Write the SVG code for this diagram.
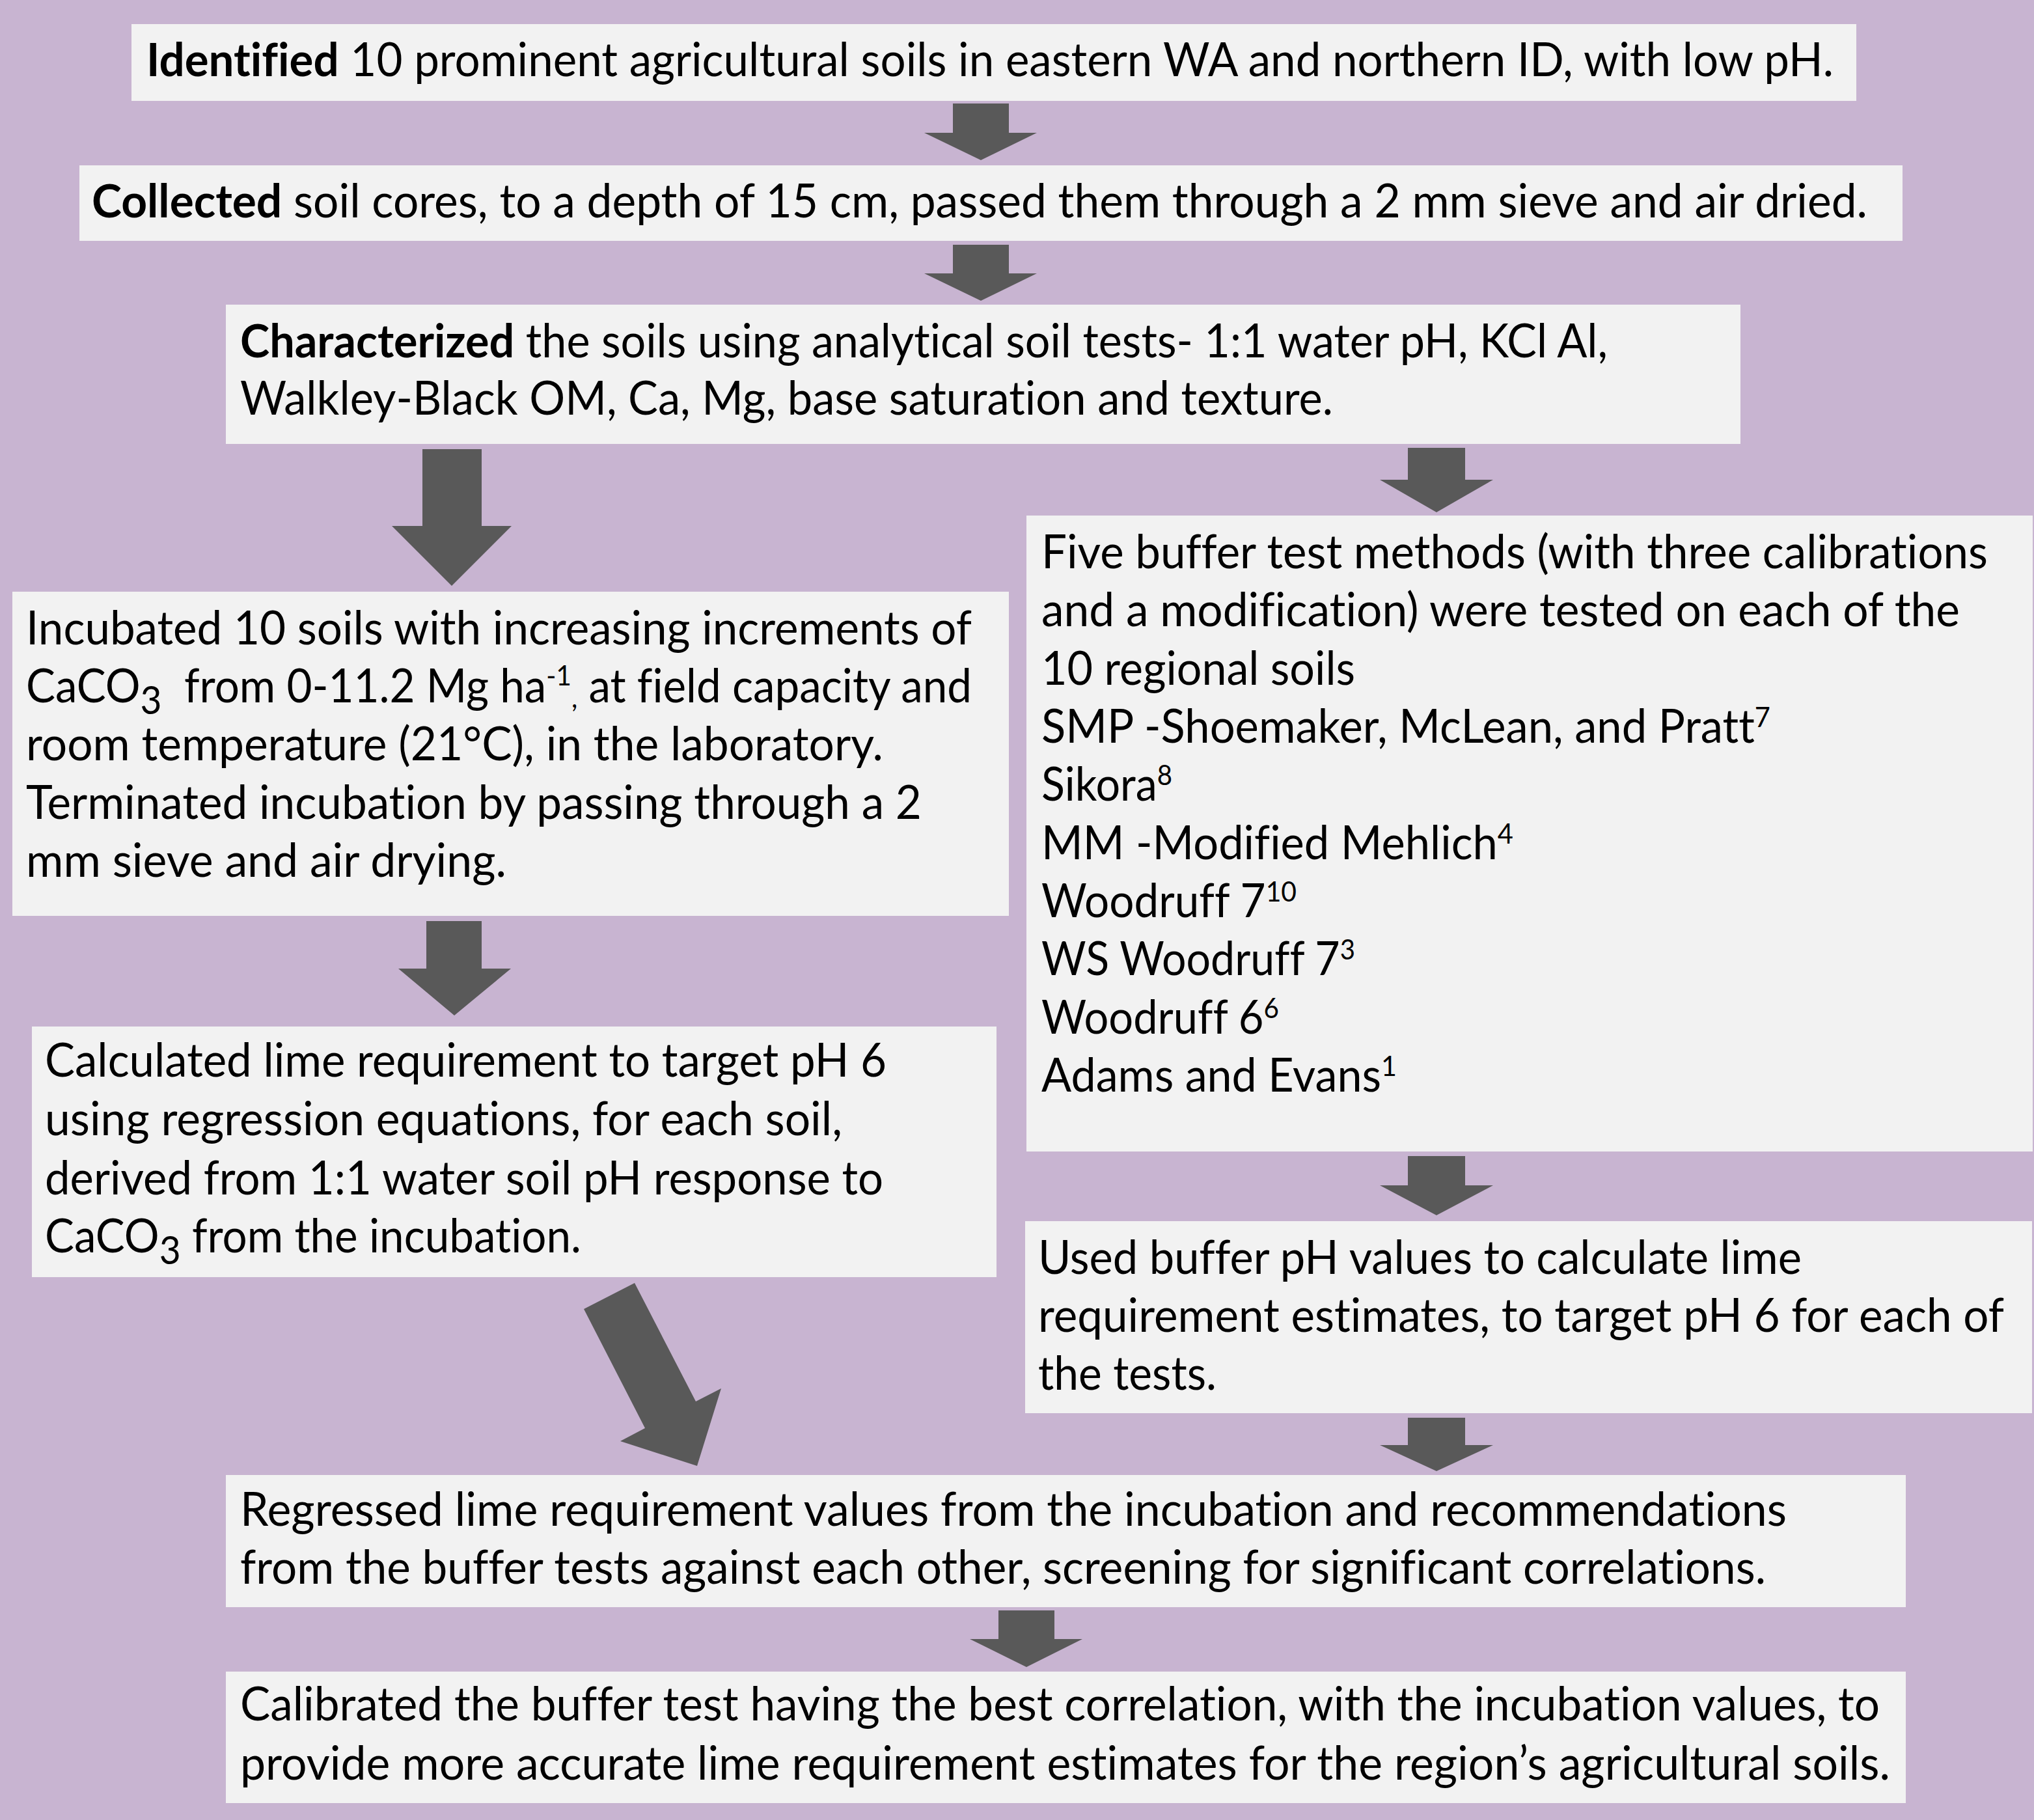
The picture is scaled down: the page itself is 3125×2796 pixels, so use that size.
<svg xmlns="http://www.w3.org/2000/svg" width="3125" height="2796" viewBox="0 0 3125 2796">
<style>
.bg{fill:#C8B4D1}
.box{fill:#F2F2F2}
.arrow{fill:#595959}
.t{font-family:Lato,"Open Sans","Liberation Sans",sans-serif;font-size:71px;fill:#000;font-variant-ligatures:none;font-feature-settings:"liga" 0}
.b{font-weight:bold}
.sup{font-size:43px}
.sub{font-size:60px}
</style>
<rect class="bg" x="0" y="0" width="3125" height="2796"/>
<g id="connectors">
<polygon class="arrow" points="1464,159 1550,159 1550,204 1593,204 1507,246 1420,204 1464,204"/>
<polygon class="arrow" points="1464,376 1550,376 1550,420 1593,420 1507,462 1420,420 1464,420"/>
<polygon class="arrow" points="649,690 740,690 740,808 786,808 694,900 602,808 649,808"/>
<polygon class="arrow" points="655,1415 740,1415 740,1488 785,1488 698,1560 612,1488 655,1488"/>
<polygon class="arrow" points="2163,688 2251,688 2251,737 2294,737 2207,787 2120,737 2163,737"/>
<polygon class="arrow" points="2163,1776 2251,1776 2251,1821 2294,1821 2207,1867 2120,1821 2163,1821"/>
<polygon class="arrow" points="2163,2178 2251,2178 2251,2220 2294,2220 2207,2260 2120,2220 2163,2220"/>
<polygon class="arrow" points="897,2011 975,1971 1069,2153 1108,2133 1071,2252 953,2214 991,2194"/>
<polygon class="arrow" points="1534,2474 1620,2474 1620,2518 1663,2518 1577,2561 1490,2518 1534,2518"/>
</g>
<g id="identified">
<rect class="box" x="202" y="37" width="2650" height="118"/>
<text class="t" x="225" y="117" textLength="2592" lengthAdjust="spacingAndGlyphs"><tspan class="b">Identified</tspan> 10 prominent agricultural soils in eastern WA and northern ID, with low pH.</text>
</g>
<g id="collected">
<rect class="box" x="122" y="254" width="2801" height="116"/>
<text class="t" x="141" y="334" textLength="2728" lengthAdjust="spacingAndGlyphs"><tspan class="b">Collected</tspan> soil cores, to a depth of 15 cm, passed them through a 2 mm sieve and air dried.</text>
</g>
<g id="characterized">
<rect class="box" x="347" y="468" width="2327" height="214"/>
<text class="t" x="369" y="549" textLength="2101" lengthAdjust="spacingAndGlyphs"><tspan class="b">Characterized</tspan> the soils using analytical soil tests- 1:1 water pH, KCl Al,</text>
<text class="t" x="369" y="637" textLength="1679" lengthAdjust="spacingAndGlyphs">Walkley-Black OM, Ca, Mg, base saturation and texture.</text>
</g>
<g id="incubated">
<rect class="box" x="19" y="909" width="1531" height="498"/>
<text class="t" x="40" y="990" textLength="1453" lengthAdjust="spacingAndGlyphs">Incubated 10 soils with increasing increments of</text>
<text class="t" x="40" y="1079" textLength="1453" lengthAdjust="spacingAndGlyphs" xml:space="preserve">CaCO<tspan class="sub" dy="18">3</tspan><tspan dy="-18">  from 0-11.2 Mg ha</tspan><tspan class="sup" dy="-26">-1</tspan><tspan class="sup" dy="34">,</tspan><tspan dy="-8"> at field capacity and</tspan></text>
<text class="t" x="40" y="1168" textLength="1317" lengthAdjust="spacingAndGlyphs">room temperature (21°C), in the laboratory.</text>
<text class="t" x="40" y="1258" textLength="1376" lengthAdjust="spacingAndGlyphs">Terminated incubation by passing through a 2</text>
<text class="t" x="40" y="1347" textLength="738" lengthAdjust="spacingAndGlyphs">mm sieve and air drying.</text>
</g>
<g id="calculated">
<rect class="box" x="49" y="1577" width="1482" height="385"/>
<text class="t" x="69" y="1654" textLength="1293" lengthAdjust="spacingAndGlyphs">Calculated lime requirement to target pH 6</text>
<text class="t" x="69" y="1744" textLength="1225" lengthAdjust="spacingAndGlyphs">using regression equations, for each soil,</text>
<text class="t" x="69" y="1835" textLength="1288" lengthAdjust="spacingAndGlyphs">derived from 1:1 water soil pH response to</text>
<text class="t" x="69" y="1924" textLength="824" lengthAdjust="spacingAndGlyphs">CaCO<tspan class="sub" dy="18">3</tspan><tspan dy="-18"> from the incubation.</tspan></text>
</g>
<g id="buffer-tests">
<rect class="box" x="1577" y="792" width="1546" height="977"/>
<text class="t" x="1600" y="873" textLength="1454" lengthAdjust="spacingAndGlyphs">Five buffer test methods (with three calibrations</text>
<text class="t" x="1600" y="962" textLength="1411" lengthAdjust="spacingAndGlyphs">and a modification) were tested on each of the</text>
<text class="t" x="1600" y="1052" textLength="482" lengthAdjust="spacingAndGlyphs">10 regional soils</text>
<text class="t" x="1600" y="1141" textLength="1120" lengthAdjust="spacingAndGlyphs">SMP -Shoemaker, McLean, and Pratt<tspan class="sup" dy="-24">7</tspan></text>
<text class="t" x="1600" y="1230" textLength="201" lengthAdjust="spacingAndGlyphs">Sikora<tspan class="sup" dy="-24">8</tspan></text>
<text class="t" x="1600" y="1320" textLength="725" lengthAdjust="spacingAndGlyphs">MM -Modified Mehlich<tspan class="sup" dy="-24">4</tspan></text>
<text class="t" x="1600" y="1409" textLength="392" lengthAdjust="spacingAndGlyphs">Woodruff 7<tspan class="sup" dy="-24">10</tspan></text>
<text class="t" x="1600" y="1498" textLength="482" lengthAdjust="spacingAndGlyphs">WS Woodruff 7<tspan class="sup" dy="-24">3</tspan></text>
<text class="t" x="1600" y="1588" textLength="365" lengthAdjust="spacingAndGlyphs">Woodruff 6<tspan class="sup" dy="-24">6</tspan></text>
<text class="t" x="1600" y="1677" textLength="546" lengthAdjust="spacingAndGlyphs">Adams and Evans<tspan class="sup" dy="-24">1</tspan></text>
</g>
<g id="buffer-lime">
<rect class="box" x="1575" y="1876" width="1547" height="295"/>
<text class="t" x="1595" y="1957" textLength="1173" lengthAdjust="spacingAndGlyphs">Used buffer pH values to calculate lime</text>
<text class="t" x="1595" y="2046" textLength="1484" lengthAdjust="spacingAndGlyphs">requirement estimates, to target pH 6 for each of</text>
<text class="t" x="1595" y="2135" textLength="274" lengthAdjust="spacingAndGlyphs">the tests.</text>
</g>
<g id="regressed">
<rect class="box" x="347" y="2266" width="2581" height="203"/>
<text class="t" x="369" y="2344" textLength="2376" lengthAdjust="spacingAndGlyphs">Regressed lime requirement values from the incubation and recommendations</text>
<text class="t" x="369" y="2433" textLength="2344" lengthAdjust="spacingAndGlyphs">from the buffer tests against each other, screening for significant correlations.</text>
</g>
<g id="calibrated">
<rect class="box" x="347" y="2568" width="2581" height="202"/>
<text class="t" x="369" y="2643" textLength="2519" lengthAdjust="spacingAndGlyphs">Calibrated the buffer test having the best correlation, with the incubation values, to</text>
<text class="t" x="369" y="2734" textLength="2535" lengthAdjust="spacingAndGlyphs">provide more accurate lime requirement estimates for the region’s agricultural soils.</text>
</g>
</svg>
